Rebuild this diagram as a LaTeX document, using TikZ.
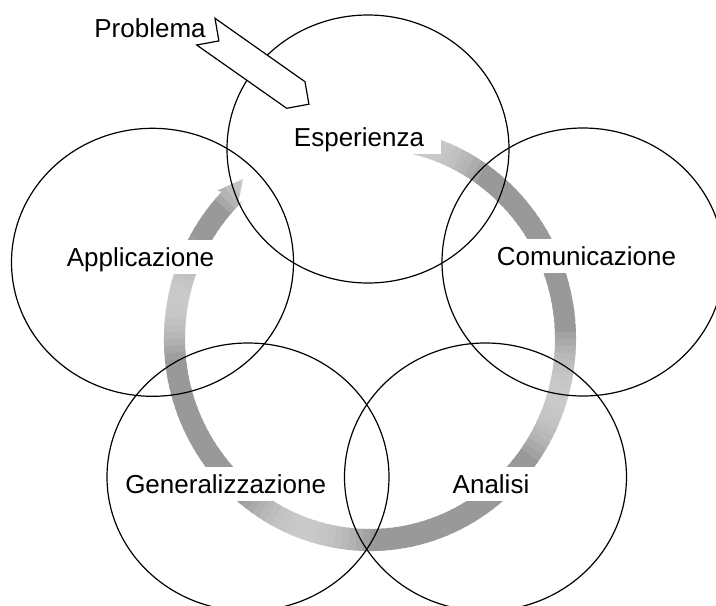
\documentclass[tikz,border=0pt]{standalone}
\usepackage{fontspec}
\setmainfont{Liberation Sans}
\usetikzlibrary{shapes.geometric}
\begin{document}
\begin{tikzpicture}[x=1pt,y=-1pt,
  circ/.style={draw=black, line width=1.2pt, ellipse, minimum width=282pt, minimum height=268pt, inner sep=0pt},
  lbl/.style={font=\fontsize{26}{30}\selectfont, text=black, anchor=base, fill=white, text height=19pt, text depth=1pt, inner ysep=7pt, inner xsep=6pt},
  prob/.style={draw=black, line width=1.2pt, fill=white, line join=miter}]
\useasboundingbox (0,0) rectangle (716,606);
\clip (0,0) rectangle (716,606);
\fill[white] (0,0) rectangle (716,606);
% grey circular arrow
\begin{scope}
\clip (419.8,133.3) arc[start angle=-76, end angle=224, x radius=206, y radius=212]
  -- (217.5,190.5) -- (243,179) -- (238,203.5) -- (241.5,202.3)
  arc[start angle=226, end angle=-82, x radius=185, y radius=190] -- cycle;
\foreach \a in {-88,-86,...,238} {
  \pgfmathsetmacro\lv{40-19*max(0,1-((\a+74)/18)^2,1-((\a-16)/20)^2,1-((\a-108)/20)^2,1-((\a-191)/18)^2,1-((\a-232)/12)^2)}
  \pgfmathsetmacro\b{\a+2.6}
  \fill[black!\lv] (370,339) -- +(\a:260) -- +(\b:260) -- cycle;
}
\end{scope}
% labels
\node[lbl, minimum width=164pt] (tE) at (359,146) {Esperienza};
\node[lbl] (tA) at (140.5,266) {Applicazione};
\node[lbl] (tC) at (586.5,265) {Comunicazione};
\node[lbl] (tG) at (225.7,493) {Generalizzazione};
\node[lbl] (tAn) at (491,493) {Analisi};
\node[lbl, fill=none] (tP) at (150,37) {Problema};
% circles
\node[circ] (cE) at (368,149) {};
\node[circ] (cA) at (152.5,262.3) {};
\node[circ] (cC) at (583,262) {};
\node[circ] (cG) at (248,477) {};
\node[circ] (cAn) at (485.5,477) {};
% problem arrow
\draw[prob] (215,18.3) -- (305,81.7) -- (308.9,104.2) -- (286.7,108.3) -- (196.7,45) -- (218.9,40.9) -- cycle;
\end{tikzpicture}
\end{document}
